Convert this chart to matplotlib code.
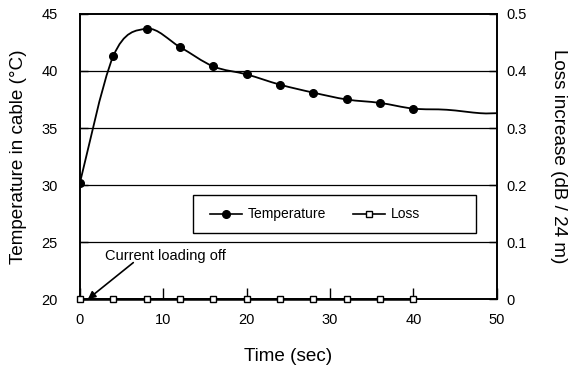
import matplotlib
matplotlib.use("Agg")
import matplotlib.pyplot as plt
from matplotlib.path import Path
from matplotlib.patches import PathPatch, Rectangle
import numpy as np

plt.rcParams['font.family'] = ['Liberation Sans', 'DejaVu Sans']

# Data
time_pts = [0, 4, 8, 12, 16, 20, 24, 28, 32, 36, 40]
temperature = [30.2, 41.3, 43.7, 42.1, 40.4, 39.7, 38.8, 38.1, 37.5, 37.2, 36.7]
# continuation of the temperature trace (no markers)
tail_time = [44, 48, 50]
tail_temp = [36.6, 36.3, 36.3]
loss = [0, 0, 0, 0, 0, 0, 0, 0, 0, 0, 0]

fig = plt.figure(figsize=(5.71, 3.67), dpi=100)
ax = fig.add_axes([0.140, 0.185, 0.730, 0.777])
ax2 = ax.twinx()


def smooth_path(xs, ys):
    """Excel-like smoothed line: cubic Bezier segments (Catmull-Rom tangents)."""
    P = np.column_stack([xs, ys]).astype(float)
    n = len(P)
    verts = [P[0]]
    codes = [Path.MOVETO]
    for i in range(n - 1):
        p0 = P[i - 1] if i > 0 else P[i]
        p1 = P[i]
        p2 = P[i + 1]
        p3 = P[i + 2] if i + 2 < n else P[i + 1]
        c1 = p1 + (p2 - p0) / 6.0
        c2 = p2 - (p3 - p1) / 6.0
        verts += [c1, c2, p2]
        codes += [Path.CURVE4] * 3
    return Path(verts, codes)


curve = smooth_path(time_pts + tail_time, temperature + tail_temp)
ax.add_patch(PathPatch(curve, facecolor='none', edgecolor='black', lw=1.3, zorder=3))
ax.plot(time_pts, temperature, 'o', color='black', ms=5.5, zorder=4)
t_handle, = ax.plot([], [], '-o', color='black', lw=1.2, ms=5.5)

# loss
ax2.plot(time_pts, loss, '-s', color='black', lw=1.8, ms=3.8, mfc='white',
         mew=1, zorder=3, clip_on=False)
l_handle, = ax2.plot([], [], '-s', color='black', lw=1.2, ms=3.8, mfc='white', mew=1)

ax.set_xlim(0, 50)
ax.set_ylim(20, 45)
ax2.set_ylim(0, 0.5)

ax.set_xticks([0, 10, 20, 30, 40, 50])
ax.set_yticks([20, 25, 30, 35, 40, 45])
ax2.set_yticks([0, 0.1, 0.2, 0.3, 0.4, 0.5])
ax2.set_yticklabels(['0', '0.1', '0.2', '0.3', '0.4', '0.5'])

for y in [25, 30, 35, 40]:
    ax.axhline(y, color='black', lw=0.9, zorder=1)

ax.tick_params(axis='x', direction='in', length=8, width=1, labelsize=10.5, pad=10)
ax.tick_params(axis='y', direction='in', length=6, width=1, labelsize=10.5, pad=16)
ax2.tick_params(axis='y', direction='in', length=6, width=1, labelsize=10.5, pad=7)

for a in (ax, ax2):
    for s in a.spines.values():
        s.set_linewidth(1.2)

ax.set_xlabel('Time (sec)', fontsize=13.6, labelpad=15)
ax.set_ylabel('Temperature in cable (°C)', fontsize=13.6, labelpad=10)
ax2.set_ylabel('Loss increase (dB / 24 m)', fontsize=13.6, rotation=270, labelpad=29)

# legend box
ax2.add_patch(Rectangle((0.271, 0.232), 0.679, 0.133, transform=ax2.transAxes,
                        facecolor='white', edgecolor='black', lw=1.0, zorder=5))
leg = ax2.legend([t_handle, l_handle], ['Temperature', 'Loss'], ncol=2, loc='center left',
                 bbox_to_anchor=(0.312, 0.297), frameon=False, fontsize=10,
                 handlelength=2.3, columnspacing=1.9, borderpad=0, handletextpad=0.45,
                 borderaxespad=0)
leg.set_zorder(6)

ax2.text(3.0, 0.068, 'Current loading off', fontsize=10.5, va='baseline', ha='left')
ax2.annotate('', xy=(0.96, 0.0), xytext=(6.4, 0.064),
             arrowprops=dict(arrowstyle='-|>', color='black', lw=1.2, mutation_scale=11,
                             shrinkA=0, shrinkB=0))

fig.savefig('out.png', dpi=100)
